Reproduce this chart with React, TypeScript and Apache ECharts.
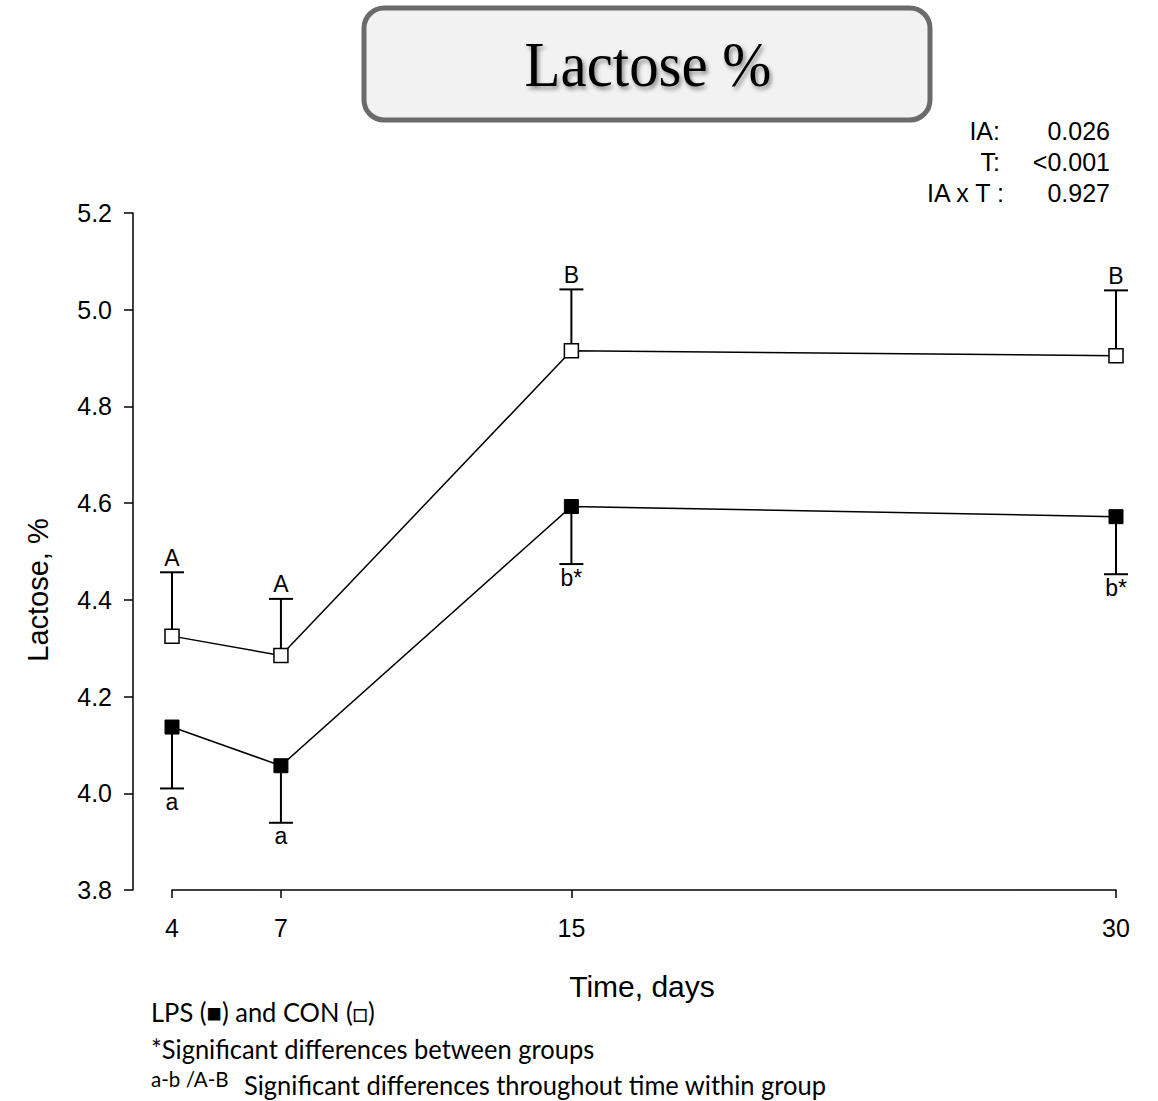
import React, { useEffect, useRef } from "react";
import * as echarts from "echarts";

// Sampling days
const days = [4, 7, 15, 30];
// Group means (%)
const conMeans = [4.325, 4.285, 4.915, 4.905];
const lpsMeans = [4.137, 4.057, 4.593, 4.572];
// Error bar ends (CON upward, LPS downward)
const conErrEnd = [4.457, 4.402, 5.042, 5.04];
const lpsErrEnd = [4.01, 3.939, 4.474, 4.453];
// Significance letters
const conLetters = ["A", "A", "B", "B"];
const lpsLetters = ["a", "a", "b*", "b*"];
// Statistics block
const statNames = ["IA:", "T:", "IA x T :"];
const statValues = ["0.026", "<0.001", "0.927"];
const yTicks = [3.8, 4.0, 4.2, 4.4, 4.6, 4.8, 5.0, 5.2];

const SANS = '"Liberation Sans", Arial, sans-serif';
const NOTE = 'Lato, "Open Sans", sans-serif';

function errorSeries(name: string, means: number[], ends: number[], letters: string[]) {
  return {
    name,
    type: "custom",
    z: 1,
    data: days.map((d, i) => [d, means[i], ends[i]]),
    renderItem: (params: any, api: any) => {
      const x = api.value(0);
      const m = api.value(1);
      const e = api.value(2);
      const p0 = api.coord([x, m]);
      const p1 = api.coord([x, e]);
      const up = e > m;
      const stroke = { stroke: "#000", lineWidth: 2 };
      return {
        type: "group",
        children: [
          { type: "line", shape: { x1: p0[0], y1: p0[1], x2: p1[0], y2: p1[1] }, style: stroke },
          { type: "line", shape: { x1: p1[0] - 12, y1: p1[1], x2: p1[0] + 12, y2: p1[1] }, style: stroke },
          {
            type: "text",
            x: p1[0],
            y: up ? p1[1] - 3 : p1[1] + 2,
            style: {
              text: letters[params.dataIndex],
              textAlign: "center",
              textVerticalAlign: up ? "bottom" : "top",
              font: `23px ${SANS}`,
              fill: "#000",
            },
          },
        ],
      };
    },
  };
}

export default function App() {
  const ref = useRef<HTMLDivElement>(null);

  useEffect(() => {
    document.body.style.margin = "0";
    const chart = echarts.init(ref.current!, null, { renderer: "svg" });

    const statGraphics: any[] = [];
    statNames.forEach((n, i) => {
      const y = 131 + i * 31;
      statGraphics.push({
        type: "text",
        x: i === 2 ? 1004 : 1000,
        y,
        style: { text: n, textAlign: "right", textVerticalAlign: "middle", font: `25px ${SANS}`, fill: "#000" },
      });
      statGraphics.push({
        type: "text",
        x: 1110,
        y,
        style: { text: statValues[i], textAlign: "right", textVerticalAlign: "middle", font: `25px ${SANS}`, fill: "#000" },
      });
    });

    const note = (text: string, x: number, y: number, size: number) => ({
      type: "text",
      x,
      y,
      scaleX: 0.98,
      style: { text, textVerticalAlign: "middle", font: `${size}px ${NOTE}`, fill: "#000" },
    });

    chart.setOption({
      animation: false,
      backgroundColor: "#fff",
      grid: { left: 172, right: 42, top: 213, bottom: 211 },
      xAxis: {
        type: "value",
        min: 4,
        max: 30,
        axisLine: { show: true, lineStyle: { color: "#000", width: 1.5 } },
        axisTick: { show: true, length: 8, customValues: days, lineStyle: { color: "#000", width: 1.5 } },
        axisLabel: { customValues: days, margin: 25, fontSize: 25, fontFamily: SANS, color: "#000" },
        splitLine: { show: false },
      },
      yAxis: {
        type: "value",
        min: 3.8,
        max: 5.2,
        interval: 0.2,
        offset: 39,
        axisLine: { show: true, lineStyle: { color: "#000", width: 1.5 } },
        axisTick: { show: true, length: 9, customValues: yTicks, lineStyle: { color: "#000", width: 1.5 } },
        axisLabel: {
          customValues: yTicks,
          margin: 21,
          fontSize: 25,
          fontFamily: SANS,
          color: "#000",
          formatter: (v: number) => v.toFixed(1),
        },
        splitLine: { show: false },
      },
      series: [
        errorSeries("CON err", conMeans, conErrEnd, conLetters),
        errorSeries("LPS err", lpsMeans, lpsErrEnd, lpsLetters),
        {
          name: "CON",
          type: "line",
          z: 3,
          data: days.map((d, i) => [d, conMeans[i]]),
          symbol: "rect",
          symbolSize: 14,
          lineStyle: { color: "#000", width: 1.5 },
          itemStyle: { color: "#fff", borderColor: "#000", borderWidth: 1.5 },
        },
        {
          name: "LPS",
          type: "line",
          z: 3,
          data: days.map((d, i) => [d, lpsMeans[i]]),
          symbol: "rect",
          symbolSize: 14,
          lineStyle: { color: "#000", width: 1.5 },
          itemStyle: { color: "#000", borderColor: "#000", borderWidth: 1 },
        },
      ],
      graphic: [
        {
          type: "rect",
          shape: { x: 364, y: 8, width: 566, height: 112, r: 20 },
          style: { fill: "#f2f2f2", stroke: "#6b6b6d", lineWidth: 5 },
        },
        {
          type: "text",
          x: 648,
          y: 64,
          scaleX: 0.92,
          style: {
            text: "Lactose %",
            textAlign: "center",
            textVerticalAlign: "middle",
            font: '64px "Liberation Serif", "DejaVu Serif", serif',
            fill: "#000",
            textShadowColor: "rgba(0,0,0,0.45)",
            textShadowBlur: 4,
            textShadowOffsetX: 2,
            textShadowOffsetY: 3,
          },
        },
        ...statGraphics,
        {
          type: "text",
          x: 38,
          y: 590,
          rotation: Math.PI / 2,
          style: { text: "Lactose, %", textAlign: "center", textVerticalAlign: "middle", font: `29px ${SANS}`, fill: "#000" },
        },
        {
          type: "text",
          x: 642,
          y: 986,
          style: { text: "Time, days", textAlign: "center", textVerticalAlign: "middle", font: `30px ${SANS}`, fill: "#000" },
        },
        note("LPS (\u25A0) and CON (\u25A1)", 151, 1012, 26),
        note("*Significant differences between groups", 151, 1049, 26),
        note("a-b /A-B", 151, 1078, 21),
        note("Significant differences throughout time within group", 244, 1085, 26),
      ],
    });

    return () => chart.dispose();
  }, []);

  return <div ref={ref} style={{ width: 1158, height: 1101 }} />;
}
